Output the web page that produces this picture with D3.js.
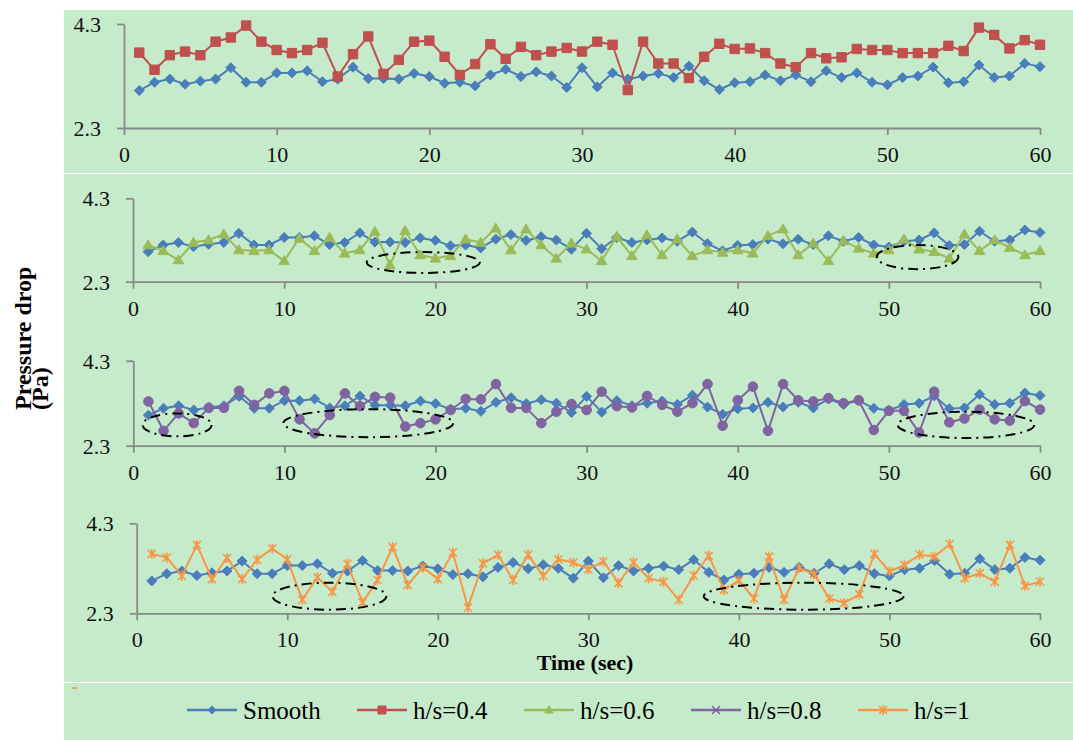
<!DOCTYPE html>
<html>
<head>
<meta charset="utf-8">
<script src="https://cdnjs.cloudflare.com/ajax/libs/d3/7.8.5/d3.min.js"></script>
<style>
  html, body { margin: 0; padding: 0; background: #ffffff; }
  svg text { font-family: 'Liberation Serif', 'Times New Roman', Times, serif; }
</style>
</head>
<body>
<svg id="chart" width="1073" height="740"></svg>
<script>
// Time axis (seconds)
const time = [1,2,3,4,5,6,7,8,9,10,11,12,13,14,15,16,17,18,19,20,
              21,22,23,24,25,26,27,28,29,30,31,32,33,34,35,36,37,38,39,40,
              41,42,43,44,45,46,47,48,49,50,51,52,53,54,55,56,57,58,59,60];

// Pressure drop (Pa) for each surface
const smooth = [3.02,3.18,3.24,3.14,3.20,3.24,3.46,3.18,3.18,3.36,
                3.36,3.40,3.19,3.24,3.47,3.25,3.25,3.24,3.35,3.29,
                3.16,3.18,3.11,3.32,3.43,3.29,3.38,3.30,3.08,3.46,
                3.09,3.36,3.24,3.30,3.35,3.27,3.49,3.21,3.04,3.17,
                3.19,3.32,3.21,3.32,3.19,3.40,3.27,3.36,3.18,3.13,
                3.27,3.30,3.47,3.17,3.19,3.51,3.27,3.30,3.54,3.48];

const hs04 = [3.75,3.42,3.70,3.77,3.70,3.96,4.04,4.27,3.96,3.80,
              3.74,3.80,3.94,3.29,3.72,4.06,3.34,3.61,3.96,3.98,
              3.67,3.32,3.53,3.91,3.63,3.86,3.70,3.77,3.84,3.77,
              3.96,3.90,3.03,3.96,3.54,3.54,3.26,3.67,3.92,3.82,
              3.83,3.74,3.54,3.47,3.74,3.64,3.66,3.82,3.80,3.80,
              3.74,3.74,3.74,3.88,3.78,4.23,4.09,3.83,3.99,3.90];

const hs06 = [3.18,3.04,2.82,3.24,3.30,3.44,3.06,3.04,3.06,2.80,
              3.34,3.04,3.36,2.98,3.06,3.50,2.70,3.52,2.94,2.86,
              2.92,3.32,3.24,3.58,3.06,3.56,3.18,2.86,3.22,3.08,
              2.80,3.38,2.92,3.42,2.94,3.32,2.92,3.06,3.00,3.06,
              2.98,3.40,3.56,2.94,3.22,2.80,3.28,3.10,2.98,3.06,
              3.32,3.08,3.02,2.86,3.44,3.04,3.30,3.12,2.94,3.04];

const hs08 = [3.34,2.65,3.06,2.83,3.19,3.19,3.59,3.26,3.53,3.59,
              2.92,2.59,3.02,3.53,3.23,3.45,3.43,2.75,2.83,2.92,
              3.14,3.40,3.39,3.75,3.19,3.19,2.83,3.10,3.28,3.14,
              3.57,3.23,3.20,3.47,3.26,3.10,3.30,3.75,2.77,3.37,
              3.69,2.65,3.75,3.37,3.34,3.42,3.30,3.37,2.67,3.12,
              3.12,2.61,3.57,2.85,2.94,3.15,2.92,2.89,3.35,3.15];

const hs10 = [3.62,3.54,3.13,3.82,3.06,3.53,3.06,3.49,3.74,3.50,
              2.60,3.10,2.78,3.40,2.54,3.04,3.77,2.93,3.32,3.06,
              3.65,2.43,3.41,3.60,3.04,3.60,3.13,3.50,3.43,3.28,
              3.45,2.97,3.43,3.08,3.00,2.60,3.14,3.58,2.82,3.03,
              2.63,3.56,2.60,3.30,3.17,2.63,2.53,2.72,3.62,3.23,
              3.37,3.60,3.56,3.84,3.08,3.19,3.00,3.82,2.91,3.00];

// Axis ticks
const xTicks = [0,10,20,30,40,50,60];
const yTicks = [2.3,4.3];
const yDomain = [2.3,4.3];
const xDomain = [0,60];

// Series labels and colours
const seriesNames  = ["Smooth","h/s=0.4","h/s=0.6","h/s=0.8","h/s=1"];
const seriesColors = ["#4a7ebb","#c0504d","#9bbb59","#8064a2","#f79646"];

// Highlighted regions per panel: [panel, centre time, centre Pa, half-width s, half-height Pa]
const regions = [
  [1,19.2,2.76,3.74,0.25],
  [1,51.9,2.89,2.70,0.29],
  [2,2.9,2.79,2.28,0.27],
  [2,15.55,2.83,5.62,0.33],
  [2,55.1,2.79,4.52,0.31],
  [3,12.8,2.68,3.78,0.30],
  [3,44.3,2.68,6.64,0.30]
];

const FONT = "Liberation Serif";
const svg = d3.select("#chart");
const green = "#c6ebcb";
const axisColor = "#898989";

// Backgrounds
svg.append("rect").attr("x",64).attr("y",10).attr("width",1009).attr("height",163).attr("fill",green);
svg.append("rect").attr("x",64).attr("y",174).attr("width",1009).attr("height",508).attr("fill",green);
svg.append("rect").attr("x",64).attr("y",683).attr("width",1009).attr("height",57).attr("fill",green);
svg.append("rect").attr("x",72).attr("y",687).attr("width",5).attr("height",2).attr("fill","#f79646").attr("opacity",0.8);

// Marker shapes
const markerPath = {
  diamond: s => `M0,${-s}L${s},0L0,${s}L${-s},0Z`,
  square: s => `M${-s},${-s}H${s}V${s}H${-s}Z`,
  triangle: s => `M0,${-s*1.05}L${s*1.05},${s*0.75}L${-s*1.05},${s*0.75}Z`,
  circle: s => `M${-s},0A${s},${s} 0 1,0 ${s},0A${s},${s} 0 1,0 ${-s},0Z`,
  cross: s => `M${-s},${-s}L${s},${s}M${-s},${s}L${s},${-s}`,
  star: s => `M${-s},${-s}L${s},${s}M${-s},${s}L${s},${-s}M0,${-s*1.25}L0,${s*1.25}`
};

function drawMarkers(g, pts, shape, color, size) {
  const filled = shape !== "star" && shape !== "cross";
  g.selectAll(null).data(pts).enter().append("path")
    .attr("transform", d => `translate(${d[0]},${d[1]})`)
    .attr("d", markerPath[shape](size))
    .attr("fill", filled ? color : "none")
    .attr("stroke", color)
    .attr("stroke-width", filled ? 1 : 1.6);
}

// Panel layouts (pixel frame of each plot area)
const panels = [
  {x0:124,   x1:1040, yTop:24,    yBot:128,   series:[{v:hs04,c:1,m:"square"}]},
  {x0:133,   x1:1040, yTop:198.3, yBot:281.7, series:[{v:hs06,c:2,m:"triangle"}]},
  {x0:133.3, x1:1040, yTop:360.7, yBot:445.7, series:[{v:hs08,c:3,m:"circle"}]},
  {x0:136.7, x1:1040, yTop:523.3, yBot:613.3, series:[{v:hs10,c:4,m:"star"}]}
];

panels.forEach((p, pi) => {
  const x = d3.scaleLinear().domain(xDomain).range([p.x0, p.x1]);
  const y = d3.scaleLinear().domain(yDomain).range([p.yBot, p.yTop]);
  const g = svg.append("g");

  // y axis
  const ya = g.append("g").attr("transform", `translate(${p.x0},0)`)
    .call(d3.axisLeft(y).tickValues(yTicks).tickFormat(d3.format(".1f")).tickSizeInner(7).tickSizeOuter(0).tickPadding(16));
  // x axis
  const xa = g.append("g").attr("transform", `translate(0,${p.yBot})`)
    .call(d3.axisBottom(x).tickValues(xTicks).tickSizeInner(7).tickSizeOuter(0).tickPadding(17));
  [ya, xa].forEach(a => {
    a.attr("font-family", FONT).attr("font-size", 22);
    a.select(".domain").attr("stroke", axisColor).attr("stroke-width", 1.8);
    a.selectAll(".tick line").attr("stroke", axisColor).attr("stroke-width", 1.8);
    a.selectAll(".tick text").attr("fill", "#111").attr("font-family", FONT).attr("font-size", 22);
  });
  xa.selectAll(".tick text").attr("dy", "0.45em");
  ya.selectAll(".tick text").attr("dy", "0.34em");

  const line = d3.line().x((d, i) => x(time[i])).y(d => y(d));
  const all = [{v:smooth,c:0,m:"diamond"}].concat(p.series);
  all.forEach(s => {
    g.append("path").datum(s.v).attr("d", line)
      .attr("fill", "none").attr("stroke", seriesColors[s.c]).attr("stroke-width", 2);
    const pts = s.v.map((d, i) => [x(time[i]), y(d)]);
    const size = s.m === "diamond" ? 5 : s.m === "square" ? 4.7 : s.m === "circle" ? 4.8 : s.m === "triangle" ? 5 : 4;
    drawMarkers(g, pts, s.m, seriesColors[s.c], size);
  });

  // Dash-dot highlight ellipses
  regions.filter(r => r[0] === pi).forEach(r => {
    g.append("ellipse")
      .attr("cx", x(r[1])).attr("cy", y(r[2]))
      .attr("rx", x(r[1] + r[3]) - x(r[1]))
      .attr("ry", y(r[2] - r[4]) - y(r[2]))
      .attr("fill", "none").attr("stroke", "#000").attr("stroke-width", 2)
      .attr("stroke-dasharray", "10,5,2,5");
  });
});

// Axis titles
svg.append("text").attr("x", 585).attr("y", 670).attr("text-anchor", "middle")
  .attr("font-family", FONT).attr("font-size", 22).attr("font-weight", "bold").text("Time (sec)");

const yt = svg.append("text").attr("transform", "translate(0,410) rotate(-90)")
  .attr("font-family", FONT).attr("font-size", 24).attr("font-weight", "bold").attr("text-anchor", "start");
yt.append("tspan").attr("x", 0).attr("y", 31).text("Pressure drop");
yt.append("tspan").attr("x", 0).attr("y", 48).text("(Pa)");

// Legend
const legendX = [187, 357, 524, 691, 858];
const legendShapes = ["diamond","square","triangle","cross","star"];
const legendY = 710;
seriesNames.forEach((name, i) => {
  const lg = svg.append("g").attr("transform", `translate(${legendX[i]},${legendY})`);
  lg.append("line").attr("x1", 0).attr("x2", 50).attr("y1", 0).attr("y2", 0)
    .attr("stroke", seriesColors[i]).attr("stroke-width", 2.5);
  drawMarkers(lg, [[25, 0]], legendShapes[i], seriesColors[i], 4);
  lg.append("text").attr("x", 56).attr("y", 0).attr("dy", "0.35em")
    .attr("font-family", FONT).attr("font-size", 25).text(name);
});
</script>
</body>
</html>
